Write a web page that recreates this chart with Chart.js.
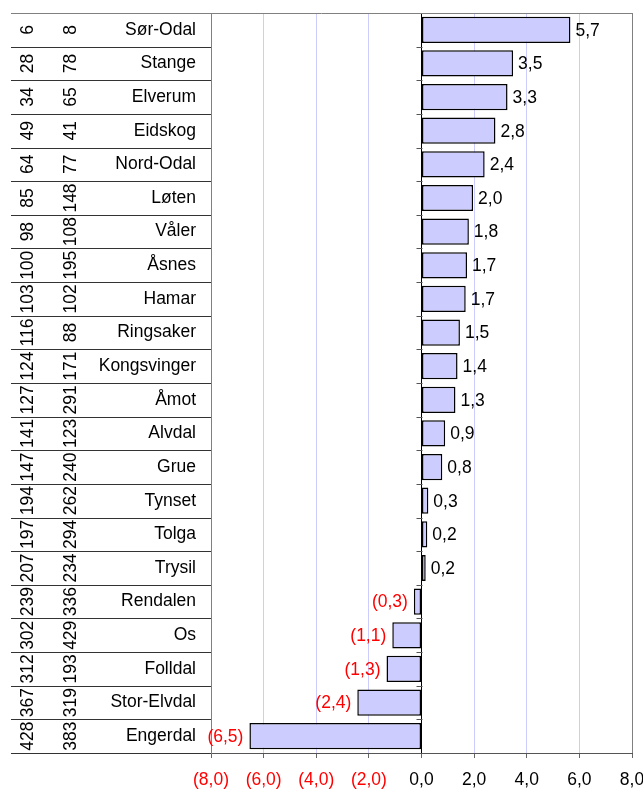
<!DOCTYPE html>
<html>
<head>
<meta charset="utf-8">
<script src="https://cdn.jsdelivr.net/npm/chart.js@4"></script>
<style>
  html, body { margin: 0; padding: 0; background: #fff; }
  #wrap { width: 643px; height: 791px; position: relative; }
</style>
</head>
<body>
<div id="wrap"><canvas id="c"></canvas></div>
<script>
const categories = ["Sør-Odal","Stange","Elverum","Eidskog","Nord-Odal","Løten","Våler","Åsnes","Hamar","Ringsaker","Kongsvinger","Åmot","Alvdal","Grue","Tynset","Tolga","Trysil","Rendalen","Os","Folldal","Stor-Elvdal","Engerdal"];
const values = [5.66,3.48,3.27,2.81,2.4,1.96,1.8,1.73,1.68,1.46,1.37,1.29,0.9,0.79,0.26,0.22,0.16,-0.29,-1.11,-1.33,-2.44,-6.54];
const rankA = ["6","28","34","49","64","85","98","100","103","116","124","127","141","147","194","197","207","239","302","312","367","428"];
const rankB = ["8","78","65","41","77","148","108","195","102","88","171","291","123","240","262","294","234","336","429","193","319","383"];
const xTicks = [-8,-6,-4,-2,0,2,4,6,8];

const FONT = '17.5px "Liberation Sans", Arial, sans-serif';
function fmt(v){ const s = Math.abs(v).toFixed(1).replace('.', ','); return v < 0 ? '(' + s + ')' : s; }

const tablePlugin = {
  id: 'tablePlugin',
  afterDraw(chart) {
    const ctx = chart.ctx, ys = chart.scales.y, xs = chart.scales.x, ca = chart.chartArea;
    const x0 = xs.getPixelForValue(0);
    ctx.save();
    for (let k = 0; k <= categories.length; k++) {
      const y = Math.round(ys.getPixelForValue(k - 0.5)) + 0.5;
      ctx.strokeStyle = '#333';
      ctx.lineWidth = 1;
      ctx.beginPath(); ctx.moveTo(11, y); ctx.lineTo(ca.left, y); ctx.stroke();
      if (k > 0 && k < categories.length) {
        ctx.strokeStyle = '#555';
        ctx.beginPath(); ctx.moveTo(x0 - 5, y); ctx.lineTo(x0 + 1, y); ctx.stroke();
      }
    }
    ctx.strokeStyle = '#808080';
    ctx.beginPath(); ctx.moveTo(11, Math.round(ca.top) + 0.5); ctx.lineTo(ca.right, Math.round(ca.top) + 0.5); ctx.stroke();
    ctx.font = FONT;
    ctx.fillStyle = '#000';
    categories.forEach((c, i) => {
      const y = ys.getPixelForValue(i);
      ctx.textAlign = 'right'; ctx.textBaseline = 'middle';
      ctx.fillText(c, 196, y);
      [[rankA[i], 33], [rankB[i], 75.5]].forEach(([t, bx]) => {
        ctx.save();
        ctx.translate(bx, y);
        ctx.rotate(-Math.PI / 2);
        ctx.textAlign = 'center'; ctx.textBaseline = 'alphabetic';
        ctx.fillText(t, 0, 0);
        ctx.restore();
      });
    });
    const meta = chart.getDatasetMeta(0);
    meta.data.forEach((bar, i) => {
      const v = values[i];
      ctx.textBaseline = 'middle';
      if (v >= 0) { ctx.fillStyle = '#000'; ctx.textAlign = 'left'; ctx.fillText(fmt(v), bar.x + 5, bar.y + 1); }
      else { ctx.fillStyle = '#ff0000'; ctx.textAlign = 'right'; ctx.fillText(fmt(v), bar.x - 6, bar.y + 1); }
    });
    ctx.restore();
  }
};

new Chart(document.getElementById('c'), {
  type: 'bar',
  data: {
    labels: categories,
    datasets: [{
      data: values,
      backgroundColor: '#ccccff',
      borderColor: '#000',
      borderWidth: 1.5,
      borderSkipped: false,
      barPercentage: 0.78,
      categoryPercentage: 1
    }]
  },
  options: {
    indexAxis: 'y',
    responsive: true,
    maintainAspectRatio: false,
    animation: false,
    layout: { padding: { left: 11, top: 13, right: 11, bottom: 0 } },
    plugins: { legend: { display: false }, tooltip: { enabled: false } },
    scales: {
      x: {
        min: -8, max: 8,
        afterBuildTicks(scale) { scale.ticks = xTicks.map(v => ({ value: v })); },
        afterFit(scale) { scale.height = 38; scale.paddingLeft = 0; scale.paddingRight = 0; },
        grid: {
          color(ctx) { const v = ctx.tick && ctx.tick.value; return v === 0 ? '#000' : (Math.abs(v) === 8 ? '#808080' : '#ccccff'); },
          tickColor: '#666',
          tickLength: 5,
          lineWidth: 1
        },
        border: { color: '#555' },
        ticks: {
          padding: 12,
          maxRotation: 0,
          font: { family: '"Liberation Sans", Arial, sans-serif', size: 17.5 },
          color(ctx) { return ctx.tick && ctx.tick.value < 0 ? '#ff0000' : '#000'; },
          callback(v) { return fmt(v); }
        }
      },
      y: {
        ticks: { display: false },
        grid: { display: false },
        border: { color: '#808080' },
        afterFit(scale) { scale.width = 200; scale.paddingTop = 0; scale.paddingBottom = 0; }
      }
    }
  },
  plugins: [tablePlugin]
});
</script>
</body>
</html>
